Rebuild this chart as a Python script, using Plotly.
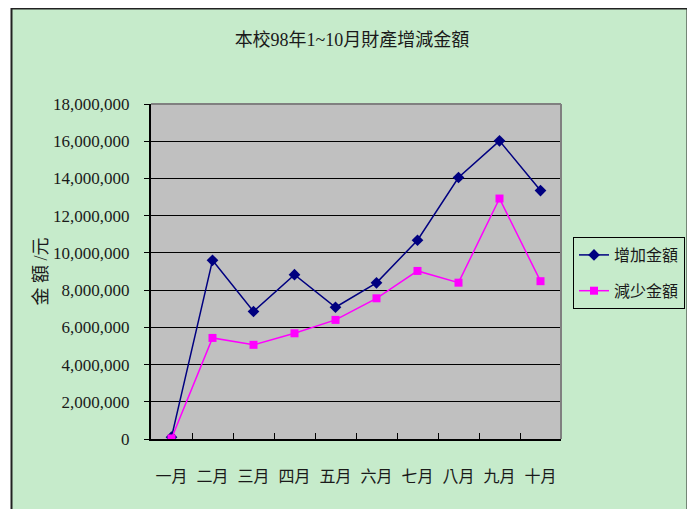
import plotly.graph_objects as go

# ---- data ----
months = ["一月", "二月", "三月", "四月", "五月", "六月", "七月", "八月", "九月", "十月"]
increase = [100000, 9600000, 6850000, 8830000, 7080000, 8390000, 10680000, 14050000, 16020000, 13350000]
decrease = [30000, 5430000, 5060000, 5680000, 6400000, 7560000, 9030000, 8400000, 12920000, 8480000]
series_names = ["增加金額", "減少金額"]
title_text = "本校98年1~10月財產增減金額"
y_title = "金 額 /元"

# ---- layout geometry (page body has an 8px margin, so offset everything) ----
OFF = 8
W, H = 695 - OFF, 509 - OFF
L, R, T, B = 151 - OFF, 561 - OFF, 104 - OFF, 439 - OFF
PW, PH = R - L, B - T


def px(x):
    """screen x (reference pixels) -> paper coordinate"""
    return (x - OFF - L) / PW


def py(y):
    """screen y (reference pixels) -> paper coordinate"""
    return (B - (y - OFF)) / PH


GREEN = "#C6EBCB"
FONT = "Liberation Serif, 'Noto Sans CJK TC', serif"
TXT = "#1a1a1a"

fig = go.Figure()
fig.add_trace(go.Scatter(
    x=months, y=increase, name=series_names[0], mode="lines+markers",
    line=dict(color="#000080", width=1.5),
    marker=dict(symbol="diamond", size=9, color="#000080"),
    legendgroup="a",
))
fig.add_trace(go.Scatter(
    x=months, y=decrease, name=series_names[1], mode="lines+markers",
    line=dict(color="#FF00FF", width=1.5),
    marker=dict(symbol="square", size=8, color="#FF00FF"),
    legendgroup="b",
))

shapes = [
    # white outside strips
    dict(type="rect", xref="paper", yref="paper", x0=px(0), x1=px(11), y0=py(530), y1=py(0),
         fillcolor="white", line=dict(width=0), layer="above"),
    dict(type="rect", xref="paper", yref="paper", x0=px(688), x1=px(710), y0=py(530), y1=py(0),
         fillcolor="white", line=dict(width=0), layer="above"),
    # chart frame
    dict(type="rect", xref="paper", yref="paper", x0=px(11.5), x1=px(687.5), y0=py(530), y1=py(8.5),
         fillcolor="rgba(0,0,0,0)", line=dict(color="#222222", width=2), layer="above"),
    # plot-area top/right borders
    dict(type="line", xref="paper", yref="paper", x0=0, x1=1, y0=1, y1=1,
         line=dict(color="#808080", width=2), layer="above"),
    dict(type="line", xref="paper", yref="paper", x0=1, x1=1, y0=0, y1=1,
         line=dict(color="#808080", width=2), layer="above"),
]

fig.update_layout(
    width=W, height=H,
    margin=dict(l=L, r=W - R, t=T, b=H - B, pad=0, autoexpand=False),
    paper_bgcolor=GREEN,
    plot_bgcolor="#C0C0C0",
    font=dict(family=FONT, size=16, color=TXT),
    title=dict(text=title_text, x=(352 - OFF) / W, xanchor="center", y=1 - (40 - OFF) / H,
               yanchor="middle", font=dict(family=FONT, size=18, color=TXT)),
    showlegend=True,
    legend=dict(x=px(573), y=py(237), xanchor="left", yanchor="top",
                bgcolor=GREEN, bordercolor="#000000", borderwidth=1,
                font=dict(family=FONT, size=16, color=TXT),
                tracegroupgap=12, itemwidth=30),
    shapes=shapes,
    xaxis=dict(
        type="category", showgrid=False, showline=True, linecolor="#000000", linewidth=2,
        ticks="inside", ticklen=6, tickcolor="#000000", tickson="boundaries",
        tickangle=0, automargin=False,
        ticklabelstandoff=22, tickfont=dict(family=FONT, size=16, color=TXT),
        range=[-0.5, 9.5], fixedrange=True,
    ),
    yaxis=dict(
        range=[0, 18000000], dtick=2000000, tick0=0, tickformat=",d",
        showgrid=True, gridcolor="#000000", gridwidth=1,
        showline=True, linecolor="#000000", linewidth=2,
        ticks="outside", ticklen=5, tickcolor="#000000", automargin=False,
        ticklabelstandoff=11, tickfont=dict(family=FONT, size=17, color=TXT),
        zeroline=False,
        title=dict(text=y_title, font=dict(family=FONT, size=18, color=TXT), standoff=1),
        fixedrange=True,
    ),
)

fig.write_html("out.html")
